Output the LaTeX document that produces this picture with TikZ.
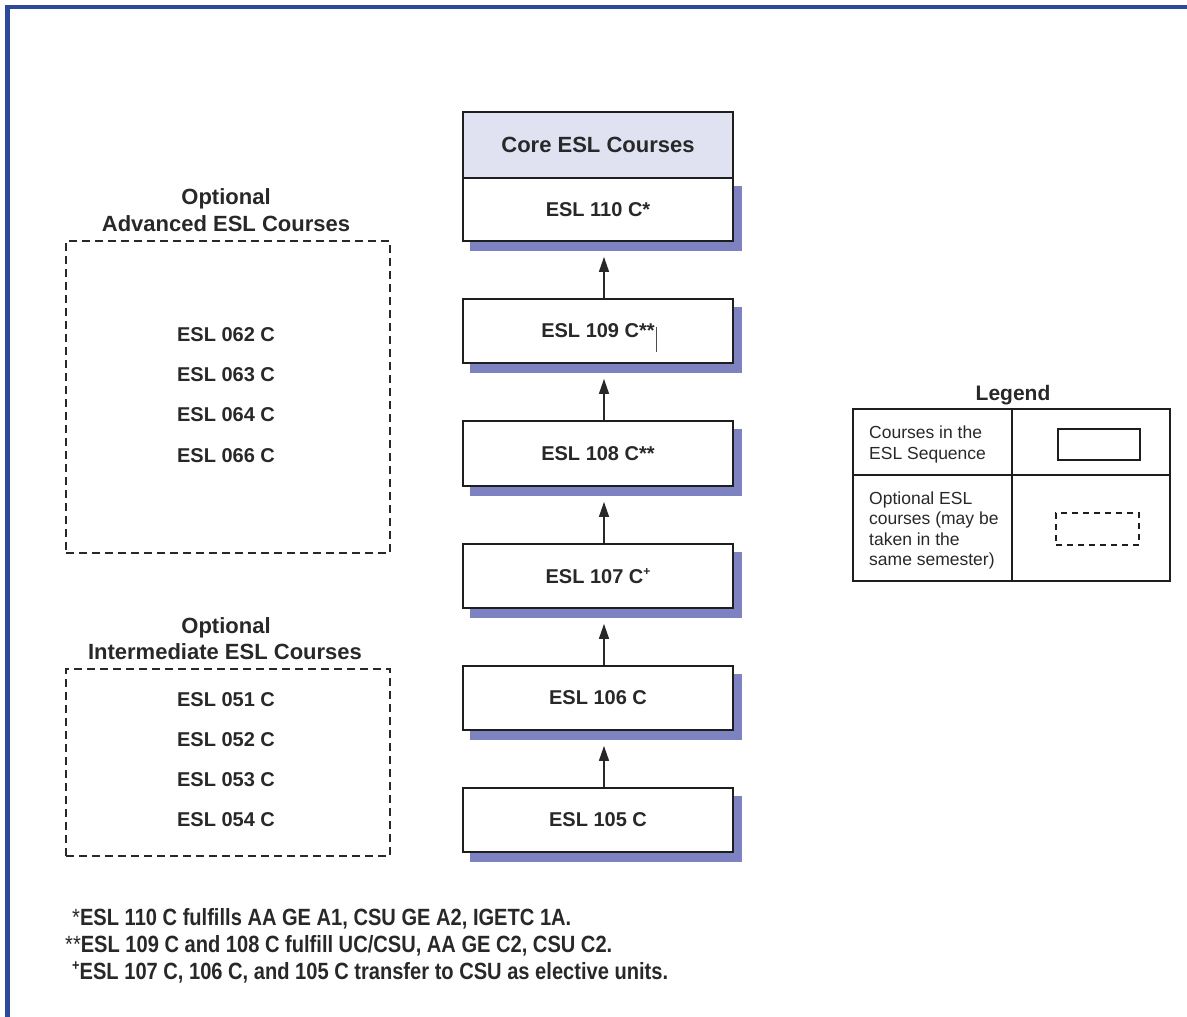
\documentclass[tikz,border=0pt]{standalone}
\usepackage{fontspec}
\setmainfont{Liberation Sans}
\newfontfamily\narrowfont[FakeStretch=0.855]{Liberation Sans}
\usetikzlibrary{arrows.meta}
\definecolor{frameblue}{RGB}{44,74,152}
\definecolor{shadowc}{RGB}{125,131,192}
\definecolor{headfill}{RGB}{224,226,242}
\definecolor{txt}{RGB}{40,40,40}
\definecolor{boxline}{RGB}{30,30,30}
\pgfdeclarelayer{bg}
\pgfsetlayers{bg,main}
\tikzset{
  core/.style={draw=boxline, line width=1.8pt, fill=white, minimum width=270pt,
    minimum height=64pt, inner sep=0pt, text=txt,
    font=\fontsize{20}{24}\selectfont\bfseries},
  head/.style={core, fill=headfill, font=\fontsize{22}{26}\selectfont\bfseries},
  optbox/.style={draw=txt, line width=1.8pt, dash pattern=on 8pt off 5pt,
    minimum width=324pt, inner sep=0pt},
  optlabel/.style={text=txt, inner sep=0pt, font=\fontsize{20}{24}\selectfont\bfseries},
  opttitle/.style={text=txt, inner sep=0pt, anchor=base, font=\fontsize{22}{26}\selectfont\bfseries},
  legtext/.style={text=txt, inner sep=0pt, anchor=base west, font=\fontsize{17.5}{21}\selectfont},
  foot/.style={text=txt, inner sep=0pt, anchor=base west, font=\fontsize{23.5}{27}\selectfont\narrowfont\bfseries},
  arr/.style={draw=txt, line width=1.3pt, -{Triangle[length=15pt,width=10pt]}},
  shad/.style={fill=shadowc}
}
\newcommand{\supplus}{\raisebox{0.38em}{\fontsize{12}{12}\selectfont\bfseries +}}
\newcommand{\fnstar}{{\mdseries *}}
\begin{document}
\begin{tikzpicture}[x=1pt,y=-1pt]
\useasboundingbox (0,0) rectangle (1187,1017);
% frame
\draw[frameblue, line width=4.5pt] (7.5,1030) -- (7.5,7) -- (1200,7);

% core column
\node[head, minimum height=66pt] (head) at (598,145) {Core ESL Courses};
\node[core, minimum height=63pt] (b110) at (598,209.5) {ESL 110 C*};
\node[core] (b109) at (598,331) {ESL 109 C**};
\node[core, minimum height=65pt] (b108) at (598,453.5) {ESL 108 C**};
\node[core] (b107) at (598,576) {ESL 107 C\supplus};
\node[core] (b106) at (598,698) {ESL 106 C};
\node[core] (b105) at (598,820) {ESL 105 C};

\begin{pgfonlayer}{bg}
\foreach \b in {b110,b109,b108,b107,b106,b105}{
  \fill[shad] ([xshift=8pt,yshift=-9pt]\b.south west) rectangle ([xshift=8pt,yshift=-9pt]\b.north east);
}
\end{pgfonlayer}

% stray mark in ESL 109 box
\draw[black!70, line width=1pt] (656,327) -- (656,352);

% arrows
\draw[arr] ([xshift=6pt]b109.north) -- ([xshift=6pt,yshift=-15pt]b110.south);
\draw[arr] ([xshift=6pt]b108.north) -- ([xshift=6pt,yshift=-15pt]b109.south);
\draw[arr] ([xshift=6pt]b107.north) -- ([xshift=6pt,yshift=-15pt]b108.south);
\draw[arr] ([xshift=6pt]b106.north) -- ([xshift=6pt,yshift=-15pt]b107.south);
\draw[arr] ([xshift=6pt]b105.north) -- ([xshift=6pt,yshift=-15pt]b106.south);

% optional advanced
\node[opttitle] (advt1) at (226,204) {Optional};
\node[opttitle] (advt2) at (226,231) {Advanced ESL Courses};
\node[optbox, minimum height=312pt] (adv) at (228,397) {};
\node[optlabel] (a62) at (226,335) {ESL 062 C};
\node[optlabel] (a63) at (226,375) {ESL 063 C};
\node[optlabel] (a64) at (226,415) {ESL 064 C};
\node[optlabel] (a66) at (226,456) {ESL 066 C};

% optional intermediate
\node[opttitle] (intt1) at (226,633) {Optional};
\node[opttitle] (intt2) at (225,659) {Intermediate ESL Courses};
\node[optbox, minimum height=187pt] (int) at (228,762.5) {};
\node[optlabel] (i51) at (226,700) {ESL 051 C};
\node[optlabel] (i52) at (226,740) {ESL 052 C};
\node[optlabel] (i53) at (226,780) {ESL 053 C};
\node[optlabel] (i54) at (226,820) {ESL 054 C};

% legend
\node[text=txt, inner sep=0pt, anchor=base, font=\fontsize{21}{25}\selectfont\bfseries] (legt) at (1013,400) {Legend};
\draw[boxline, line width=1.2pt] (853,409) rectangle (1170,581);
\draw[boxline, line width=1.2pt] (853,475) -- (1170,475);
\draw[boxline, line width=1.2pt] (1012,409) -- (1012,581);
\node[legtext] (l1) at (869,438) {Courses in the};
\node[legtext] (l2) at (869,459) {ESL Sequence};
\node[legtext] (l3) at (869,504) {Optional ESL};
\node[legtext] (l4) at (869,524.5) {courses (may be};
\node[legtext] (l5) at (869,545) {taken in the};
\node[legtext] (l6) at (869,565.5) {same semester)};
\node[draw=boxline, line width=1.2pt, minimum width=82pt, minimum height=31pt, inner sep=0pt] (ls1) at (1099,444.5) {};
\node[draw=boxline, line width=1.2pt, dash pattern=on 6pt off 5pt, minimum width=83pt, minimum height=32pt, inner sep=0pt] (ls2) at (1097.5,529) {};

% footnotes
\node[foot] (f1) at (72,925) {\fnstar ESL 110 C fulfills AA GE A1, CSU GE A2, IGETC 1A.};
\node[foot] (f2) at (65,952) {\fnstar\fnstar ESL 109 C and 108 C fulfill UC/CSU, AA GE C2, CSU C2.};
\node[foot] (f3) at (72,979) {\raisebox{0.36em}{\fontsize{15}{15}\selectfont\bfseries +}ESL 107 C, 106 C, and 105 C transfer to CSU as elective units.};
\end{tikzpicture}
\end{document}
